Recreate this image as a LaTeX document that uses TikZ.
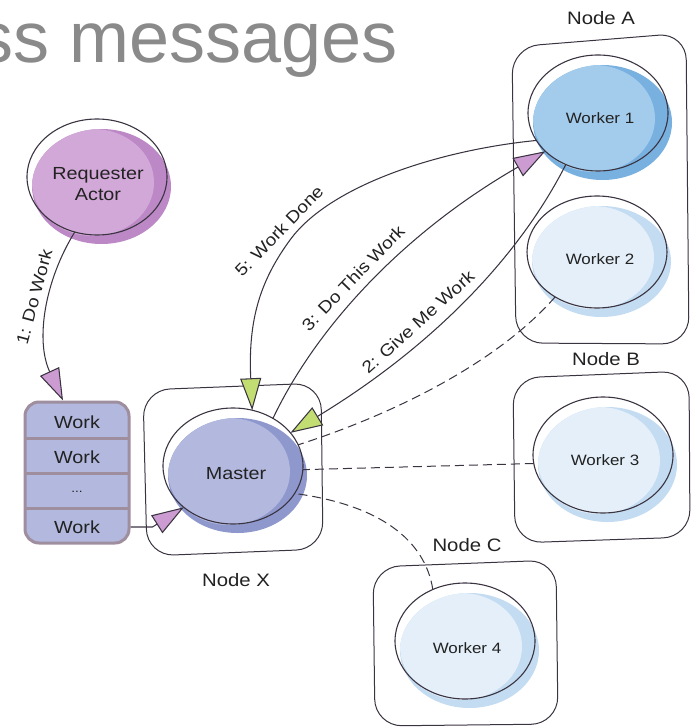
\documentclass[tikz,border=0pt]{standalone}
\usepackage{fontspec}
\setmainfont{Liberation Sans}[FakeStretch=1.13]
\newfontfamily\titlefont{Liberation Sans}
\usetikzlibrary{arrows.meta,shapes.geometric}
\definecolor{ink}{HTML}{3A3340}
\definecolor{txt}{HTML}{222222}
\definecolor{wAlight}{HTML}{A3CBEC}
\definecolor{wAdark}{HTML}{78B0E0}
\definecolor{wPlight}{HTML}{E4EFF9}
\definecolor{wPdark}{HTML}{C3DCF1}
\definecolor{mlight}{HTML}{B2B8DE}
\definecolor{mdark}{HTML}{8E98CD}
\definecolor{rlight}{HTML}{D2A8D8}
\definecolor{rdark}{HTML}{BC88C6}
\definecolor{qborder}{HTML}{9E8E9E}
\definecolor{tipgreen}{HTML}{C2DD72}
\definecolor{tippurple}{HTML}{CB9BD2}
\definecolor{titlegray}{HTML}{8A8A8A}
\newcommand\blobfill[6]{%
  \begin{scope}
    \fill[#6] ({#1+4.5},{#2+9.5}) ellipse [x radius=#3-0.5, y radius=#4-0.5];
    \clip ({#1+4.5},{#2+9.5}) ellipse [x radius=#3-0.5, y radius=#4-0.5];
    \fill[#5] ({#1-4},{#2+5.5}) ellipse [x radius=#3-9, y radius=#4-4.5];
  \end{scope}}
\begin{document}
\begin{tikzpicture}[x=1pt,y=-1pt,
  container/.style={draw=ink,line width=1pt,rounded corners=27pt},
  blob/.style={ellipse,draw=ink,line width=1.1pt,inner sep=0pt,outer sep=0pt,
     minimum width=140pt,minimum height=116pt},
  wlabel/.style={text=txt,font=\fontsize{15}{18}\selectfont,inner sep=0pt},
  blabel/.style={text=txt,font=\fontsize{17.5}{21}\selectfont,inner sep=0pt,align=center},
  nlabel/.style={text=txt,font=\fontsize{18}{21}\selectfont,inner sep=0pt},
  elabel/.style={text=txt,font=\fontsize{17}{20}\selectfont,inner sep=0pt},
  conn/.style={draw=ink,line width=1.05pt},
  dconn/.style={draw=ink,line width=1pt,dash pattern=on 9pt off 5pt},
  greentip/.style={-{Triangle[length=32pt,width=21pt,fill=tipgreen]}},
  purpletip/.style={-{Triangle[length=32pt,width=21pt,fill=tippurple]}},
  qsep/.style={draw=qborder,line width=3pt}]
\useasboundingbox (0,0) rectangle (690,727);

% title (cut at the left edge)
\begin{scope}
\clip (0,0) rectangle (690,727);
\node[anchor=base east,inner sep=0pt,text=titlegray,
  font=\titlefont\fontsize{72}{80}\selectfont] (title) at (398,63) {ss messages};
\end{scope}

% containers
\draw[container] (512,47) -- (686,33) -- (689,344) -- (516,343) -- cycle;
\draw[container] (513,378) -- (689,371) -- (690,537) -- (515,543) -- cycle;
\draw[container] (373,567) -- (556,560) -- (558,724) -- (375,726) -- cycle;
\draw[container] (143,390) -- (321,383) -- (323,549) -- (147,556) -- cycle;

\node[nlabel] (nA) at (601,18) {Node A};
\node[nlabel] (nB) at (606,359) {Node B};
\node[nlabel] (nC) at (467,545) {Node C};
\node[nlabel] (nX) at (236,580) {Node X};

% blob fills
\blobfill{97}{177}{70}{58}{rlight}{rdark}
\blobfill{233}{466}{70}{58}{mlight}{mdark}
\blobfill{598}{113}{70}{58}{wAlight}{wAdark}
\blobfill{597}{252}{70}{56}{wPlight}{wPdark}
\blobfill{603}{455}{70}{58}{wPlight}{wPdark}
\blobfill{465}{641}{70}{58}{wPlight}{wPdark}

% blob outlines
\node[blob] (r) at (97,177) {};
\node[blob] (m) at (233,466) {};
\node[blob] (w1) at (598,113) {};
\node[blob,minimum height=112pt] (w2) at (597,252) {};
\node[blob] (w3) at (603,455) {};
\node[blob] (w4) at (465,641) {};

\node[blabel] (rt) at (98,184) {Requester\\Actor};
\node[blabel] (mt) at (236,474) {Master};
\node[wlabel] (w1t) at (600,118) {Worker 1};
\node[wlabel] (w2t) at (600,259) {Worker 2};
\node[wlabel] (w3t) at (605,460) {Worker 3};
\node[wlabel] (w4t) at (467,648) {Worker 4};

% work queue
\node[draw=qborder,line width=3pt,fill=mlight,rounded corners=14pt,
  minimum width=104pt,minimum height=141pt,inner sep=0pt] (q) at (77,472.5) {};
\draw[qsep] (26,438) -- (128,438);
\draw[qsep] (26,473) -- (128,473);
\draw[qsep] (26,508) -- (128,508);
\node[blabel] (q1) at (77,422) {Work};
\node[blabel] (q2) at (77,457) {Work};
\node[blabel,font=\fontsize{12}{14}\selectfont] (q3) at (77,492) {...};
\node[blabel] (q4) at (77,527) {Work};

% connectors
\draw[conn,purpletip] (r.248) .. controls (45,280) and (35,340) .. ([xshift=-14pt]q.north);
\draw[conn,purpletip] (q.east |- q4) -- ++(22,0) -- (m.220);
\draw[conn,greentip] (w1.204) .. controls (440,150) and (330,185) .. (290,240)
   .. controls (260,281) and (248,320) .. (m.71);
\draw[conn,purpletip] (m.50) .. controls (315,330) and (400,235) .. (w1.216);
\draw[conn,greentip] (w1.238) .. controls (520,255) and (435,345) .. (m.30);
\draw[dconn] (w2.227) .. controls (500,360) and (400,412) .. (m.18);
\draw[dconn] (w3.187) -- (m.-3);
\draw[dconn] (w4.122) .. controls (425,540) and (380,505) .. (m.-24);

% connector labels
\node[elabel,rotate=75] (l1) at (34,297) {1: Do Work};
\node[elabel,rotate=46] (l5) at (279,231) {5: Work Done};
\node[elabel,rotate=46] (l3) at (353,278) {3: Do This Work};
\node[elabel,rotate=42] (l2) at (418,322) {2: Give Me Work};
\end{tikzpicture}
\end{document}
